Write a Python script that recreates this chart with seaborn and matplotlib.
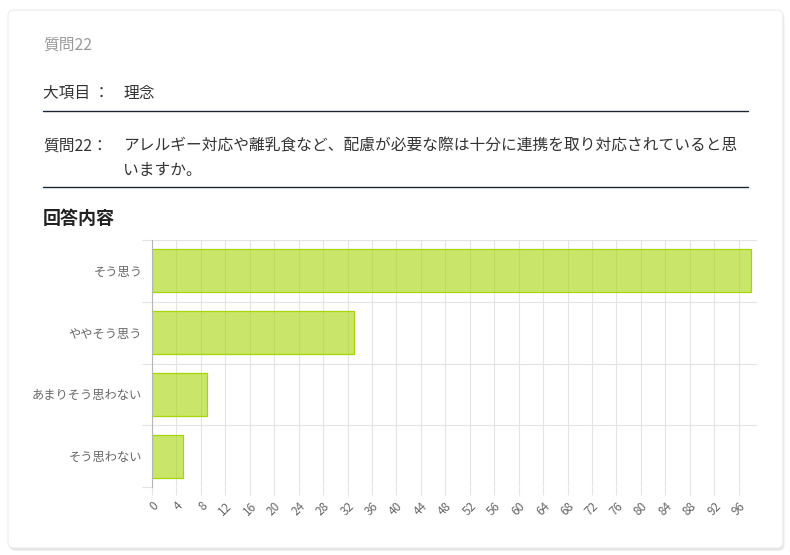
import matplotlib
matplotlib.use("Agg")
import matplotlib.pyplot as plt
import seaborn as sns
import numpy as np
from matplotlib.patches import FancyBboxPatch
from matplotlib.lines import Line2D

# data
categories = ["そう思う", "ややそう思う", "あまりそう思わない", "そう思わない"]
counts = [98, 33, 9, 5]
x_ticks = list(range(0, 97, 4))

sns.set_theme(style="white")
plt.rcParams['font.family'] = ['Noto Sans CJK JP', 'DejaVu Sans']

W, H = 790, 555
fig = plt.figure(figsize=(W / 100, H / 100), dpi=100)
fig.patch.set_facecolor("white")


def px(x, y):
    # pixel position (from top-left) to figure fraction
    return x / W, 1 - y / H


# card with soft shadow
for off, col in [(3, "#e4e4e4"), (1.5, "#d8d8d8")]:
    fig.add_artist(FancyBboxPatch((0.08 + off / 200, 0.07 - off / 100), 7.75, 5.38,
                                  boxstyle="round,pad=0,rounding_size=0.06",
                                  transform=fig.dpi_scale_trans, facecolor=col, edgecolor="none", alpha=0.6, zorder=-2))
fig.add_artist(FancyBboxPatch((0.08, 0.07), 7.75, 5.38, boxstyle="round,pad=0,rounding_size=0.06",
                              transform=fig.dpi_scale_trans, facecolor="white", edgecolor="#ececec", linewidth=0.8, zorder=-1))

# header texts
fs = 11.3
fig.text(*px(43, 45), "質問22", color="#9a9a9a", fontsize=fs, va="center", ha="left")
fig.text(*px(43, 93), "大項目 ：", color="#333333", fontsize=fs, va="center", ha="left")
fig.text(*px(123, 93), "理念", color="#333333", fontsize=fs, va="center", ha="left")
fig.text(*px(43, 146), "質問22：", color="#333333", fontsize=fs, va="center", ha="left")
fig.text(*px(123, 146), "アレルギー対応や離乳食など、配慮が必要な際は十分に連携を取り対応されていると思",
         color="#333333", fontsize=fs, va="center", ha="left")
fig.text(*px(123, 171), "いますか。", color="#333333", fontsize=fs, va="center", ha="left")
fig.text(*px(43, 219), "回答内容", color="#222222", fontsize=13, fontweight="bold", va="center", ha="left")

for yy in [111, 187]:
    x0, y0 = px(43, yy)
    x1, _ = px(748, yy)
    fig.add_artist(Line2D([x0, x1], [y0, y0], color="#1c2733", linewidth=1.0, transform=fig.transFigure))

# chart area
left, top = px(152, 240)
right, bottom = px(757, 487)
ax = fig.add_axes([left, bottom, right - left, top - bottom])
ax.set_facecolor("none")
ax.set_zorder(2)

sns.barplot(x=counts, y=categories, orient="h", color="#a6d608", width=0.7, ax=ax)
for p in ax.patches:
    p.set_facecolor((166 / 255, 214 / 255, 8 / 255, 0.6))
    p.set_edgecolor("#a6d608")
    p.set_linewidth(0.9)

ax.set_xlim(0, 99)
ax.set_ylim(3.5, -0.5)
ax.set_xlabel("")
ax.set_ylabel("")

grid_col = "#e3e3e3"
ax.set_xticks(x_ticks)
ax.set_xticklabels([str(t) for t in x_ticks], rotation=45, ha="right", va="top", rotation_mode="anchor",
                   color="#666666", fontsize=8.5)
ax.set_yticks(np.arange(-0.5, 4, 1), minor=True)
ax.tick_params(axis="x", which="major", length=6, color=grid_col, width=0.8, pad=3, bottom=True)
ax.tick_params(axis="y", which="major", length=0, pad=7, labelsize=8.8, labelcolor="#666666")
ax.tick_params(axis="y", which="minor", length=7, color=grid_col, width=0.8, left=True)
ax.grid(True, axis="x", which="major", color=grid_col, linewidth=0.8)
ax.grid(True, axis="y", which="minor", color=grid_col, linewidth=0.8)
ax.set_axisbelow(True)

for s in ["top", "right", "bottom"]:
    ax.spines[s].set_visible(False)
ax.spines["left"].set_color("#b5b5b5")
ax.spines["left"].set_linewidth(0.8)

fig.savefig("out.png", dpi=100)
